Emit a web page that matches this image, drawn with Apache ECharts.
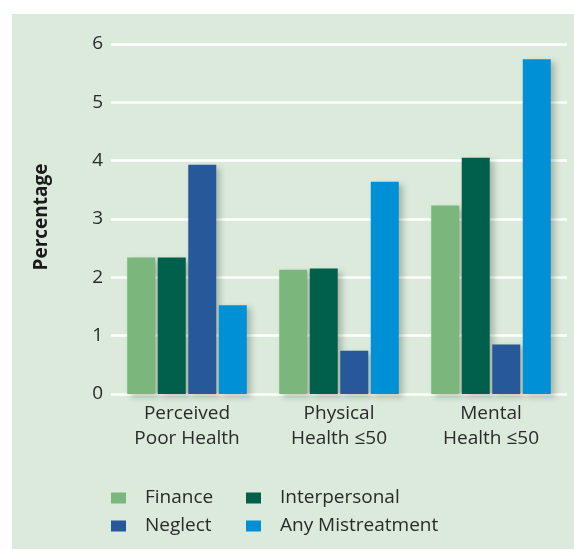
<!DOCTYPE html>
<html>
<head>
<meta charset="utf-8">
<script src="https://cdn.jsdelivr.net/npm/echarts@6/dist/echarts.min.js"></script>
<style>
  html, body { margin: 0; padding: 0; background: #ffffff; }
  #chart { width: 574px; height: 549px; }
</style>
</head>
<body>
<div id="chart"></div>
<script>
// Health outcome groups along the x axis
var categories = ['Perceived\nPoor Health', 'Physical\nHealth \u226450', 'Mental\nHealth \u226450'];

// Percentage for each mistreatment type
var finance       = [2.34, 2.13, 3.23];
var interpersonal = [2.34, 2.15, 4.05];
var neglect       = [3.93, 0.74, 0.85];
var anyMistreat   = [1.52, 3.64, 5.74];

var seriesNames = ['Finance', 'Interpersonal', 'Neglect', 'Any Mistreatment'];
var seriesData = [finance, interpersonal, neglect, anyMistreat];
var seriesColors = ['#7bb77c', '#00604b', '#27599a', '#0090d5'];

var yTicks = [0, 1, 2, 3, 4, 5, 6];

var font = '"Open Sans", "DejaVu Sans", sans-serif';
var textColor = '#2a2a2a';

var chart = echarts.init(document.getElementById('chart'), null, { renderer: 'canvas' });

var series = seriesNames.map(function (name, i) {
  return {
    name: name,
    type: 'bar',
    data: seriesData[i],
    barWidth: 28,
    barGap: '9%',
    itemStyle: {
      color: seriesColors[i],
      shadowColor: 'rgba(40,50,40,0.28)',
      shadowBlur: 6,
      shadowOffsetX: 4,
      shadowOffsetY: 3
    }
  };
});

// Two legend rows so the entries line up in two columns
function legendRow(names, top) {
  return {
    data: names,
    left: 111,
    top: top,
    padding: 0,
    itemWidth: 15,
    itemHeight: 11,
    itemGap: 14,
    icon: 'rect',
    textStyle: {
      fontFamily: font,
      fontSize: 19,
      color: textColor,
      width: 87,
      lineHeight: 20,
      padding: [0, 0, 0, 14]
    }
  };
}

chart.setOption({
  backgroundColor: '#ffffff',
  animation: false,
  graphic: [
    {
      type: 'rect',
      z: -10,
      shape: { x: 12, y: 14, width: 562, height: 535 },
      style: { fill: '#dbeadb' }
    },
    {
      type: 'text',
      x: 42,
      y: 217,
      rotation: Math.PI / 2,
      style: {
        text: 'Percentage',
        font: 'bold 19px ' + font,
        fill: '#1a1a1a',
        align: 'center',
        verticalAlign: 'middle'
      }
    }
  ],
  grid: { left: 111, right: 7, top: 44, bottom: 155 },
  legend: [
    legendRow(['Finance', 'Interpersonal'], 488),
    legendRow(['Neglect', 'Any Mistreatment'], 516)
  ],
  xAxis: {
    type: 'category',
    data: categories,
    axisLine: { show: false },
    axisTick: { show: false },
    axisLabel: {
      fontFamily: font,
      fontSize: 19,
      color: textColor,
      lineHeight: 25,
      margin: 7
    }
  },
  yAxis: {
    type: 'value',
    min: yTicks[0],
    max: yTicks[yTicks.length - 1],
    interval: 1,
    axisLine: { show: false },
    axisTick: { show: false },
    axisLabel: {
      fontFamily: font,
      fontSize: 19,
      color: textColor,
      margin: 8
    },
    splitLine: { lineStyle: { color: '#ffffff', width: 2.5 } }
  },
  series: series
});
</script>
</body>
</html>
